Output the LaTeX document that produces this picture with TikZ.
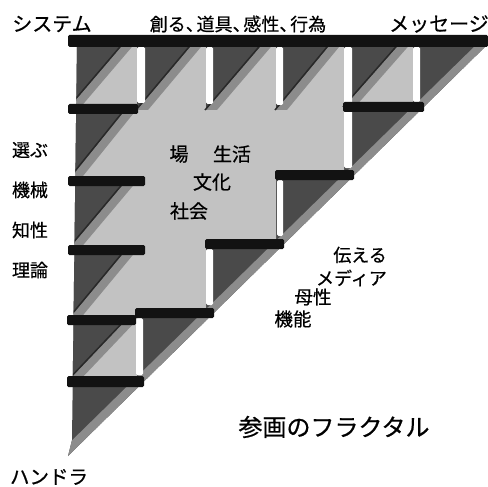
\documentclass[tikz,border=0pt]{standalone}
\usepackage{fontspec}
\newfontfamily\jp[FakeBold=0.6]{Noto Sans CJK JP}
\definecolor{dkc}{gray}{0.29}
\definecolor{bandc}{gray}{0.55}
\definecolor{lightc}{gray}{0.76}
\definecolor{barc}{gray}{0.07}
\definecolor{shadc}{gray}{0.16}
\newcommand{\hcomma}{\makebox[0.6em][l]{、}}
\begin{document}
\begin{tikzpicture}[x=1pt,y=-1pt,
  lab/.style={inner sep=0pt, font=\jp},
  barbox/.style={fill=barc, rounded corners=1.5pt},
  stripbox/.style={fill=white, rounded corners=1.5pt}]
\useasboundingbox (0,0) rectangle (488,487);
\begin{scope}
  \clip (77,44) -- (489,43) -- (68,456) -- (72,440) -- cycle;
  \fill[dkc] (60,30) rectangle (500,470);
  % light staircase interior
  \fill[lightc] (68,41) -- (413,41) -- (413,107) -- (344,107) -- (344,175) -- (276,175)
     -- (276,244) -- (206,244) -- (206,313) -- (137,313) -- (137,381) -- (68,381) -- cycle;
  % boundary cells: dark triangle + diagonal band
  \foreach \a/\b/\t/\u in {68/137/41/109, 137/206/41/110, 206/276/41/110, 276/344/41/110,
      344/413/41/107, 68/137/109/181, 68/137/181/250, 68/137/250/320, 68/137/320/381} {
    \fill[dkc] (\a,\t) -- (\b,\t) -- (\a,\u) -- cycle;
    \fill[bandc] (\b-11,\t) -- (\b,\t) -- (\a+11,\u) -- (\a,\u) -- cycle;
    \draw[shadc, line width=1.5pt] (\b-12,\t) -- (\a-1,\u);
  }
  % band along the hypotenuse
  \fill[bandc] (489,43) -- (68,456) -- (56,456) -- (478,43) -- cycle;
  % white strips
  \fill[stripbox] (137,47) rectangle (145,103);
  \fill[stripbox] (206,47) rectangle (213,104);
  \fill[stripbox] (276,47) rectangle (283,105);
  \fill[stripbox] (344,47) rectangle (352,168);
  \fill[stripbox] (413,47) rectangle (420,102);
  \fill[stripbox] (277,180) rectangle (283,236);
  \fill[stripbox] (206,249) rectangle (213,305);
  \fill[stripbox] (136,318) rectangle (143,375);
\end{scope}
% black bars
\fill[barbox] (68,35) rectangle (488,47);
\fill[barbox] (68,104) rectangle (138,114);
\fill[barbox] (68,176) rectangle (145,186);
\fill[barbox] (68,245) rectangle (145,255);
\fill[barbox] (67,315) rectangle (136,325);
\fill[barbox] (67,376) rectangle (144,387);
\fill[barbox] (343,102) rectangle (424,112);
\fill[barbox] (275,170) rectangle (354,180);
\fill[barbox] (205,239) rectangle (284,249);
\fill[barbox] (135,308) rectangle (214,318);
% labels
\node[lab] (sys) at (52,24) {\fontsize{20}{20}\selectfont システム};
\node[lab] (tsukuru) at (238,24) {\fontsize{18}{18}\selectfont 創る\hcomma 道具\hcomma 感性\hcomma 行為};
\node[lab, anchor=east] (msg) at (489,24) {\fontsize{20}{20}\selectfont メッセージ};
\node[lab] (erabu) at (30,150) {\fontsize{18}{18}\selectfont 選ぶ};
\node[lab] (kikai) at (30,190) {\fontsize{18}{18}\selectfont 機械};
\node[lab] (chisei) at (30,230) {\fontsize{18}{18}\selectfont 知性};
\node[lab] (riron) at (30,270) {\fontsize{18}{18}\selectfont 理論};
\node[lab] (ba) at (179,154) {\fontsize{19}{19}\selectfont 場};
\node[lab] (seikatsu) at (232,154) {\fontsize{19}{19}\selectfont 生活};
\node[lab] (bunka) at (212,182) {\fontsize{19}{19}\selectfont 文化};
\node[lab] (shakai) at (189,211) {\fontsize{19}{19}\selectfont 社会};
\node[lab, anchor=east] (tsutaeru) at (387,255) {\fontsize{18}{18}\selectfont 伝える};
\node[lab, anchor=east] (media) at (387,278) {\fontsize{18}{18}\selectfont メディア};
\node[lab] (bosei) at (313,297) {\fontsize{18.5}{18.5}\selectfont 母性};
\node[lab] (kinou) at (293,319) {\fontsize{18.5}{18.5}\selectfont 機能};
\node[lab] (title) at (334,427) {\fontsize{24}{24}\selectfont 参画のフラクタル};
\node[lab] (handora) at (49,477) {\fontsize{19.5}{19.5}\selectfont ハンドラ};
\end{tikzpicture}
\end{document}
